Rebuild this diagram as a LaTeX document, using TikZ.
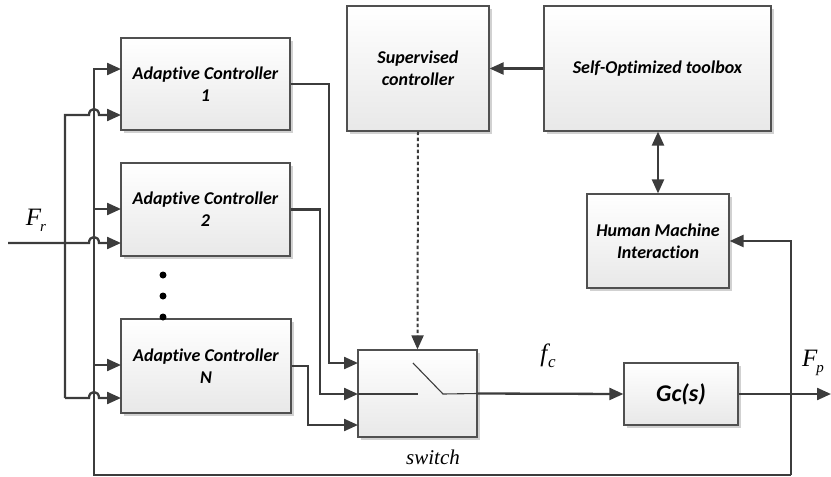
\documentclass[tikz,border=0pt]{standalone}
\usepackage{fontspec}
\setmainfont[RawFeature={-liga;-clig;-dlig;-calt}]{Carlito}
\newfontfamily\tms{Liberation Serif}
\usetikzlibrary{arrows.meta,shadows}
\definecolor{ln}{HTML}{3C3C3C}
\definecolor{bd}{HTML}{505050}
\tikzset{
  blk/.style={draw=bd, line width=1.2pt, rectangle, top color=white, bottom color=gray!18,
    drop shadow={shadow xshift=2.5pt, shadow yshift=-2.5pt, fill=black!18, opacity=1},
    align=center, font=\bfseries\itshape\fontsize{18}{22}\selectfont, inner sep=0pt},
  wire/.style={draw=ln, line width=2.3pt},
  arr/.style={wire, -{Triangle[length=14pt,width=12pt]}},
  darr/.style={wire, {Triangle[length=14pt,width=12pt]}-{Triangle[length=14pt,width=12pt]}},
  thinwire/.style={draw=ln, line width=1.1pt},
  dot/.style={circle, fill=black, inner sep=0pt, minimum size=7pt},
  lbl/.style={font=\tms\itshape\fontsize{25}{25}\selectfont, inner sep=0pt},
}
\begin{document}
\begin{tikzpicture}[x=1pt,y=-1pt]
\useasboundingbox (0,0) rectangle (831,477);
% blocks
\node[blk, minimum width=169pt, minimum height=92pt] (ac1) at (205.5,84) {Adaptive Controller\\1};
\node[blk, minimum width=169pt, minimum height=93pt] (ac2) at (205.5,209.5) {Adaptive Controller\\2};
\node[blk, minimum width=170pt, minimum height=94pt] (acn) at (206,366) {Adaptive Controller\\N};
\node[blk, minimum width=142pt, minimum height=125pt] (sc) at (418,68.5) {Supervised\\controller};
\node[blk, minimum width=227pt, minimum height=125pt] (so) at (657.5,68.5) {Self-Optimized toolbox};
\node[blk, minimum width=142pt, minimum height=94pt] (hmi) at (658,241) {Human Machine\\Interaction};
\node[blk, minimum width=119pt, minimum height=87pt] (sw) at (417.5,393.5) {};
\node[blk, minimum width=114pt, minimum height=62pt, font=\bfseries\itshape\fontsize{24}{26}\selectfont] (gc) at (681,394) {Gc(s)};
% dots
\node[dot] (d1) at (163,275) {};
\node[dot] (d2) at (163,296) {};
\node[dot] (d3) at (163,317) {};
% named points
\coordinate (a1u) at (121,69);
\coordinate (a1l) at (121,115);
\coordinate (a2u) at (121,209);
\coordinate (a2l) at (121,243);
\coordinate (anu) at (121,365);
\coordinate (anl) at (121,398);
\coordinate (sw1) at (358,363);
\coordinate (sw2) at (358,394);
\coordinate (sw3) at (358,425);
\coordinate (fin) at (8,243);
\coordinate (fpend) at (831,394);
\coordinate (fbtop) at (791,241);
\coordinate (fbbot) at (791,475);
\coordinate (fbl) at (94,475);
% output of Gc and feedback
\draw[arr] (gc.east) -- (fpend);
\draw[arr] (fbbot) -- (fbtop) -- (hmi.east);
\draw[arr] (fbbot) -- (fbl) |- (a1u);
\draw[arr] (94,209) -- (a2u);
\draw[arr] (94,365) -- (anu);
% outer bus with hops over x=94
\draw[arr] (65,398) -- (65,115) -- (89,115) .. controls (89,107) and (99,107) .. (99,115) -- (a1l);
\draw[arr] (fin) -- (89,243) .. controls (89,235) and (99,235) .. (99,243) -- (a2l);
\draw[arr] (65,398) -- (89,398) .. controls (89,390) and (99,390) .. (99,398) -- (anl);
% controller outputs to switch
\draw[arr] (ac1.east) -- (329,84) |- (sw1);
\draw[arr] (ac2.east) -- (320,209.5) |- (sw2);
\draw[arr] (acn.east) -- (308,366) |- (sw3);
% switch internals
\draw[thinwire] (sw2) -- (418,394);
\draw[thinwire] (413,363) -- (443,394) -- (sw.east);
\draw[arr] (sw.east) -- (gc.west);
% top connections
\draw[arr, line width=2pt, dash pattern=on 3.5pt off 2.5pt] (sc.south) -- (sw.north);
\draw[arr] (so.west) -- (sc.east);
\draw[darr] (hmi.north |- so.south) -- (hmi.north);
% labels
\node[lbl] (fr) at (36,220) {F\kern-1pt\raisebox{-0.55ex}{\fontsize{15}{15}\selectfont r}};
\node[lbl] (fc) at (548,356) {f\kern1pt\raisebox{-0.55ex}{\fontsize{17}{17}\selectfont c}};
\node[lbl] (fp) at (813,363) {F\kern-1pt\raisebox{-0.55ex}{\fontsize{15}{15}\selectfont p}};
\node[font=\tms\itshape\fontsize{21}{21}\selectfont, inner sep=0pt] (swl) at (433,457) {switch};
\end{tikzpicture}
\end{document}
